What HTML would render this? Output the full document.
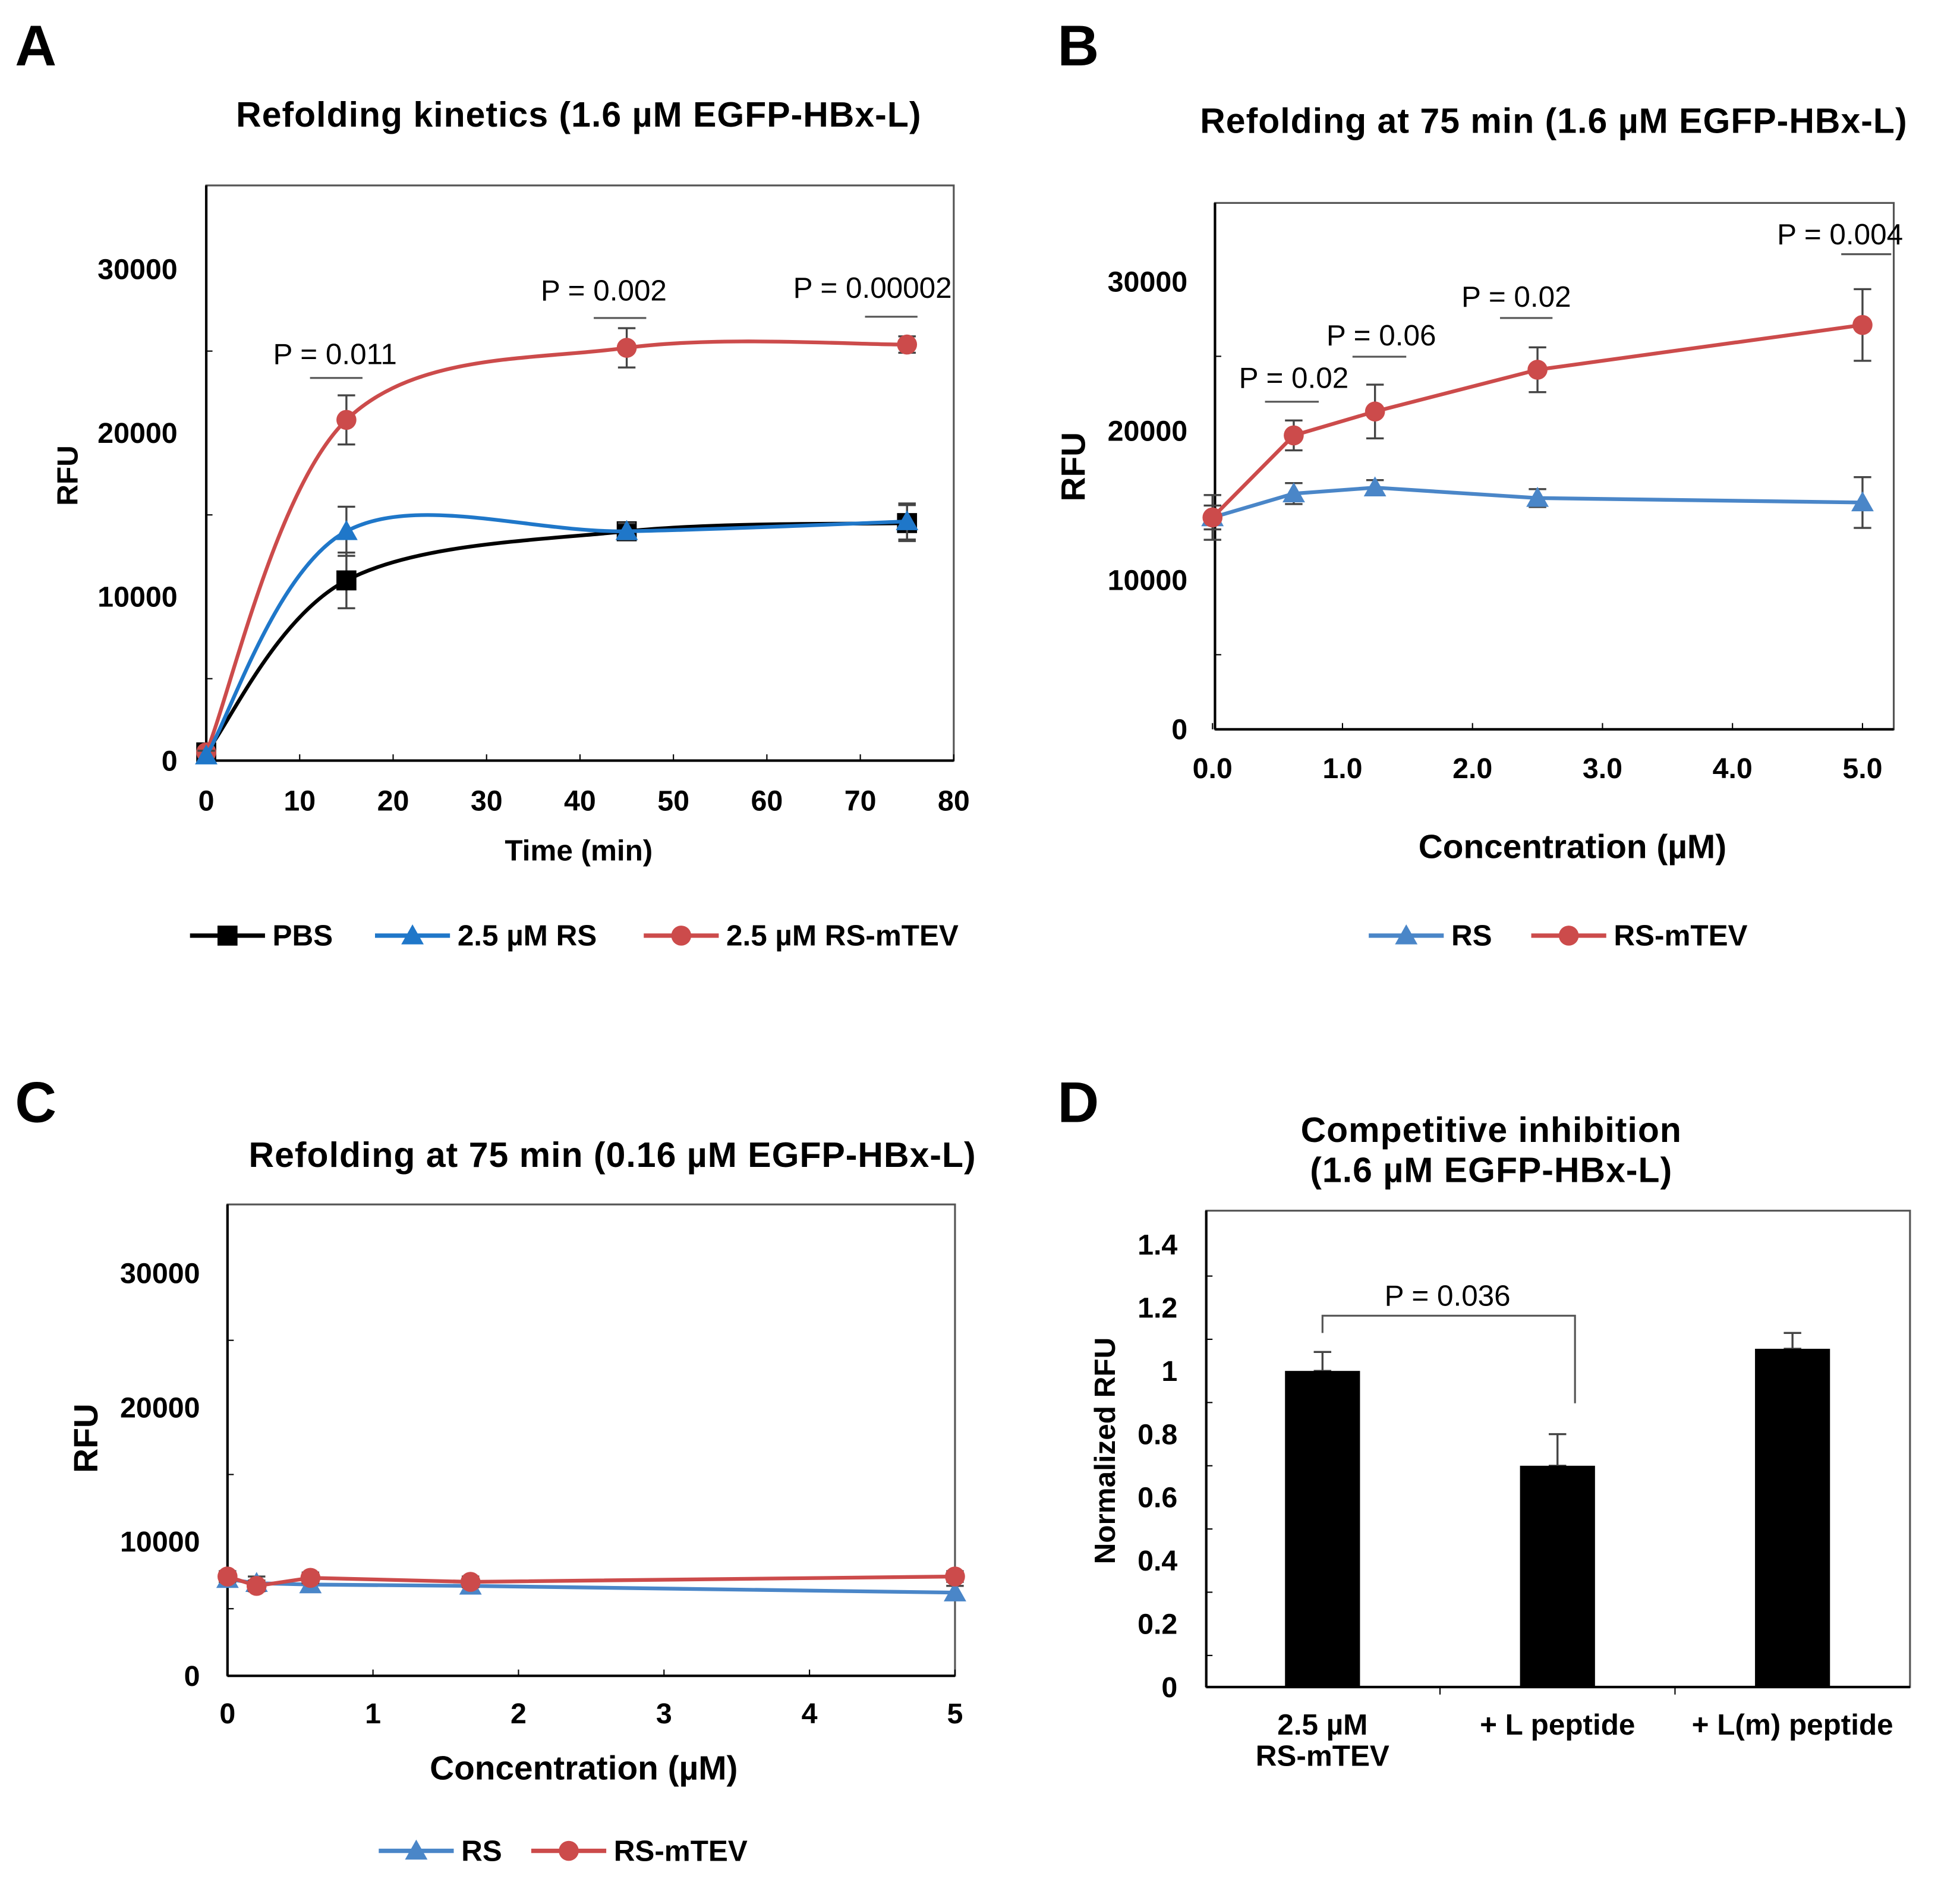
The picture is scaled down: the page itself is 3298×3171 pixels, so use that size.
<!DOCTYPE html>
<html><head><meta charset="utf-8"><style>
html,body{margin:0;padding:0;background:#fff}
svg{display:block}
text{font-family:"Liberation Sans",Arial,sans-serif;fill:#000}
.tk{font-size:23px;font-weight:bold}
.tt{font-size:27px;font-weight:bold}
.ttn{font-size:28px;letter-spacing:0.5px;font-weight:bold}
.lg{font-size:23.5px;font-weight:bold}
.pv{font-size:23.5px}
.lt{font-size:46px;font-weight:bold}
</style></head><body>
<svg id="fig" width="3298" height="3171" viewBox="0 0 1568 1507" xmlns="http://www.w3.org/2000/svg">
<text class="lt" x="12" y="52">A</text>
<text class="lt" x="846" y="52">B</text>
<text class="lt" x="12" y="897">C</text>
<text class="lt" x="846" y="897">D</text>
</svg>
<script>
// Panel A
const aTime=[0,15,45,75];
const aPBS=[500,11000,14000,14500];
const aPBSerr=[300,1700,500,1100];
const aRS=[300,14000,14000,14600];
const aRSerr=[300,1500,500,1100];
const aMTEV=[500,20800,25200,25400];
const aMTEVerr=[300,1500,1200,500];
const aXTicks=[0,10,20,30,40,50,60,70,80];
const aYTicks=[0,10000,20000,30000];
// Panel B
const bConc=[0,0.625,1.25,2.5,5];
const bRS=[14200,15800,16200,15500,15200];
const bRSerr=[1500,700,500,600,1700];
const bMTEV=[14200,19700,21300,24100,27100];
const bMTEVerr=[800,1000,1800,1500,2400];
const bXTicks=[0,1,2,3,4,5];
const bYTicks=[0,10000,20000,30000];
// Panel C
const cConc=[0,0.2,0.57,1.67,5];
const cRS=[7200,6900,6800,6700,6200];
const cMTEV=[7400,6700,7300,7000,7400];
const cXTicks=[0,1,2,3,4,5];
const cYTicks=[0,10000,20000,30000];
// Panel D
const dCats=[["2.5 µM","RS-mTEV"],["+ L peptide"],["+ L(m) peptide"]];
const dVals=[1.0,0.7,1.07];
const dErr=[0.06,0.1,0.05];
const dYTicks=[0,0.2,0.4,0.6,0.8,1,1.2,1.4];

const svg=document.getElementById('fig');
const NS='http://www.w3.org/2000/svg';
function mk(tag,attrs,txt){const e=document.createElementNS(NS,tag);for(const k in attrs)e.setAttribute(k,attrs[k]);if(txt!==undefined)e.textContent=txt;svg.appendChild(e);return e;}
function lin(d0,d1,r0,r1){return v=>r0+(v-d0)*(r1-r0)/(d1-d0);}
function smooth(pts){let d='M'+pts[0][0]+','+pts[0][1];for(let i=0;i<pts.length-1;i++){const p0=pts[i-1]||pts[i],p1=pts[i],p2=pts[i+1],p3=pts[i+2]||p2;
const c1=[p1[0]+(p2[0]-p0[0])/6,p1[1]+(p2[1]-p0[1])/6],c2=[p2[0]-(p3[0]-p1[0])/6,p2[1]-(p3[1]-p1[1])/6];d+=' C'+c1+' '+c2+' '+p2;}return d;}
function marker(kind,x,y,c){let e;if(kind==='sq')e=mk('rect',{x:x-8,y:y-8,width:16,height:16,fill:c});else if(kind==='tri')e=mk('polygon',{points:(x)+','+(y-9)+' '+(x-9)+','+(y+7)+' '+(x+9)+','+(y+7),fill:c});else e=mk('circle',{cx:x,cy:y,r:8,fill:c});

}
function errbar(x,y1,y2){const e=mk('path',{d:`M${x},${y1}V${y2}M${x-7},${y1}H${x+7}M${x-7},${y2}H${x+7}`,stroke:'#444','stroke-width':1.6,fill:'none'});

}
function series(X,Y,xs,ys,vals,errs,color,kind,name,straight){const pts=xs.map((v,i)=>[X(v),Y(vals[i])]);
if(errs)xs.forEach((v,i)=>errbar(X(v),Y(vals[i]+errs[i]),Y(vals[i]-errs[i])));
const p=mk('path',{d:straight?'M'+pts.join('L'):smooth(pts),stroke:color,'stroke-width':3,fill:'none'});


pts.forEach(q=>marker(kind,q[0],q[1],color));}
function axes(o){const r=mk('rect',{x:o.x0,y:o.yt,width:o.x1-o.x0,height:o.y0-o.yt,fill:'none',stroke:'#555','stroke-width':1.5});


mk('line',{x1:o.x0,y1:o.yt,x2:o.x0,y2:o.y0,stroke:'#000','stroke-width':2});
mk('line',{x1:o.x0,y1:o.y0,x2:o.x1,y2:o.y0,stroke:'#000','stroke-width':2});
o.yt2.forEach(v=>{const y=o.Y(v);mk('line',{x1:o.x0,y1:y,x2:o.x0+5,y2:y,stroke:'#000'});});
o.yticks.forEach(v=>{const y=o.Y(v);const t=mk('text',{x:o.ylx,y:y+8,'text-anchor':'end',class:'tk'},o.fmtY?o.fmtY(v):String(v));

});
if(o.xticks)o.xticks.forEach(v=>{const x=o.X(v);mk('line',{x1:x,y1:o.y0,x2:x,y2:o.y0-5,stroke:'#000'});const t=mk('text',{x:x,y:o.xly,'text-anchor':'middle',class:'tk'},o.fmtX?o.fmtX(v):String(v));

});}
function label(x,y,txt,cls,name,rot){const t=mk('text',{x:x,y:y,'text-anchor':'middle',class:cls},txt);if(rot)t.setAttribute('transform',`rotate(-90 ${x} ${y})`);

}
function pval(cx,ty,lx1,lx2,ly,txt){label(cx,ty,txt,'pv','p-value-label');mk('line',{x1:lx1,y1:ly,x2:lx2,y2:ly,stroke:'#555','stroke-width':1.5});}
function legend(items,y){items.forEach(it=>{const l=mk('line',{x1:it.x,y1:y,x2:it.x+60,y2:y,stroke:it.c,'stroke-width':3.5});


marker(it.k,it.x+30,y,it.c);const t=mk('text',{x:it.x+66,y:y+8,class:'lg'},it.t);

});}
const BLK='#000',BLU='#1f77c9',RED='#cc4b4b',BLU2='#4a86c8';

// A
{const X=lin(0,80,165,763),Y=lin(0,30000,608,215);
axes({name:'a',x0:165,x1:763,yt:148,y0:608,X,Y,xticks:aXTicks,yticks:aYTicks,yt2:[5000,15000,25000],ylx:142,xly:648});
series(X,Y,aTime,null,aPBS,aPBSerr,BLK,'sq','pbs');
series(X,Y,aTime,null,aMTEV,aMTEVerr,RED,'circ','rs-mtev');
series(X,Y,aTime,null,aRS,aRSerr,BLU,'tri','rs');
label(463,101,'Refolding kinetics (1.6 µM EGFP-HBx-L)','ttn','chart-title-a');
label(463,688,'Time (min)','lg','x-axis-title-a');
label(62,380,'RFU','lg','y-axis-title-a',true);
pval(268,291,248,290,302,'P = 0.011');pval(483,240,475,517,254,'P = 0.002');pval(698,238,692,734,253,'P = 0.00002');
legend([{x:152,c:BLK,k:'sq',t:'PBS'},{x:300,c:BLU,k:'tri',t:'2.5 µM RS'},{x:515,c:RED,k:'circ',t:'2.5 µM RS-mTEV'}],748);}
// B
{const X=lin(0,5,970,1490),Y=lin(0,30000,583,225);
axes({name:'b',x0:972,x1:1515,yt:162,y0:583,X,Y,xticks:bXTicks,yticks:bYTicks,yt2:[5000,15000,25000],ylx:950,xly:622,fmtX:v=>v.toFixed(1)});
series(X,Y,bConc,null,bRS,bRSerr,BLU2,'tri','rs',true);
series(X,Y,bConc,null,bMTEV,bMTEVerr,RED,'circ','rs-mtev',true);
label(1243,106,'Refolding at 75 min (1.6 µM EGFP-HBx-L)','ttn','chart-title-b');
label(1258,686,'Concentration (µM)','tt','x-axis-title-b');
label(868,373,'RFU','tt','y-axis-title-b',true);
pval(1035,310,1012,1055,321,'P = 0.02');pval(1105,276,1082,1125,285,'P = 0.06');pval(1213,245,1200,1242,254,'P = 0.02');pval(1472,195,1473,1513,203,'P = 0.004');
legend([{x:1095,c:BLU2,k:'tri',t:'RS'},{x:1225,c:RED,k:'circ',t:'RS-mTEV'}],748);}
// C
{const X=lin(0,5,182,764),Y=lin(0,30000,1340,1018);
axes({name:'c',x0:182,x1:764,yt:963,y0:1340,X,Y,xticks:cXTicks,yticks:cYTicks,yt2:[5000,15000,25000],ylx:160,xly:1378});
series(X,Y,cConc,null,cRS,cConc.map(()=>500),BLU2,'tri','rs',true);
series(X,Y,cConc,null,cMTEV,cConc.map(()=>400),RED,'circ','rs-mtev',true);
label(490,933,'Refolding at 75 min (0.16 µM EGFP-HBx-L)','ttn','chart-title-c');
label(467,1423,'Concentration (µM)','tt','x-axis-title-c');
label(78,1150,'RFU','tt','y-axis-title-c',true);
legend([{x:303,c:BLU2,k:'tri',t:'RS'},{x:425,c:RED,k:'circ',t:'RS-mTEV'}],1480);}
// D
{const Y=lin(0,1.4,1349,995);const bx=i=>1058+i*188;
axes({name:'d',x0:965,x1:1528,yt:968,y0:1349,X:null,Y,yticks:dYTicks,yt2:[0.1,0.3,0.5,0.7,0.9,1.1,1.3],ylx:942});
[1152,1340].forEach(x=>mk('line',{x1:x,y1:1349,x2:x,y2:1355,stroke:'#000'}));
dVals.forEach((v,i)=>{errbar(bx(i),Y(v+dErr[i]),Y(v));const b=mk('rect',{x:bx(i)-30,y:Y(v),width:60,height:1349-Y(v),fill:'#000'});


dCats[i].forEach((s,j)=>label(bx(i),1387+j*25,s,'lg','category-label'));});
mk('path',{d:`M${bx(0)},${Y(1.12)}V1052H1260V1122`,stroke:'#555','stroke-width':1.5,fill:'none'});
label(1158,1044,'P = 0.036','pv','p-value-label');
label(1193,913,'Competitive inhibition','ttn','chart-title-d');
label(1193,945,'(1.6 µM EGFP-HBx-L)','ttn','chart-subtitle-d');
label(892,1160,'Normalized RFU','lg','y-axis-title-d',true);}
</script>
</body></html>
